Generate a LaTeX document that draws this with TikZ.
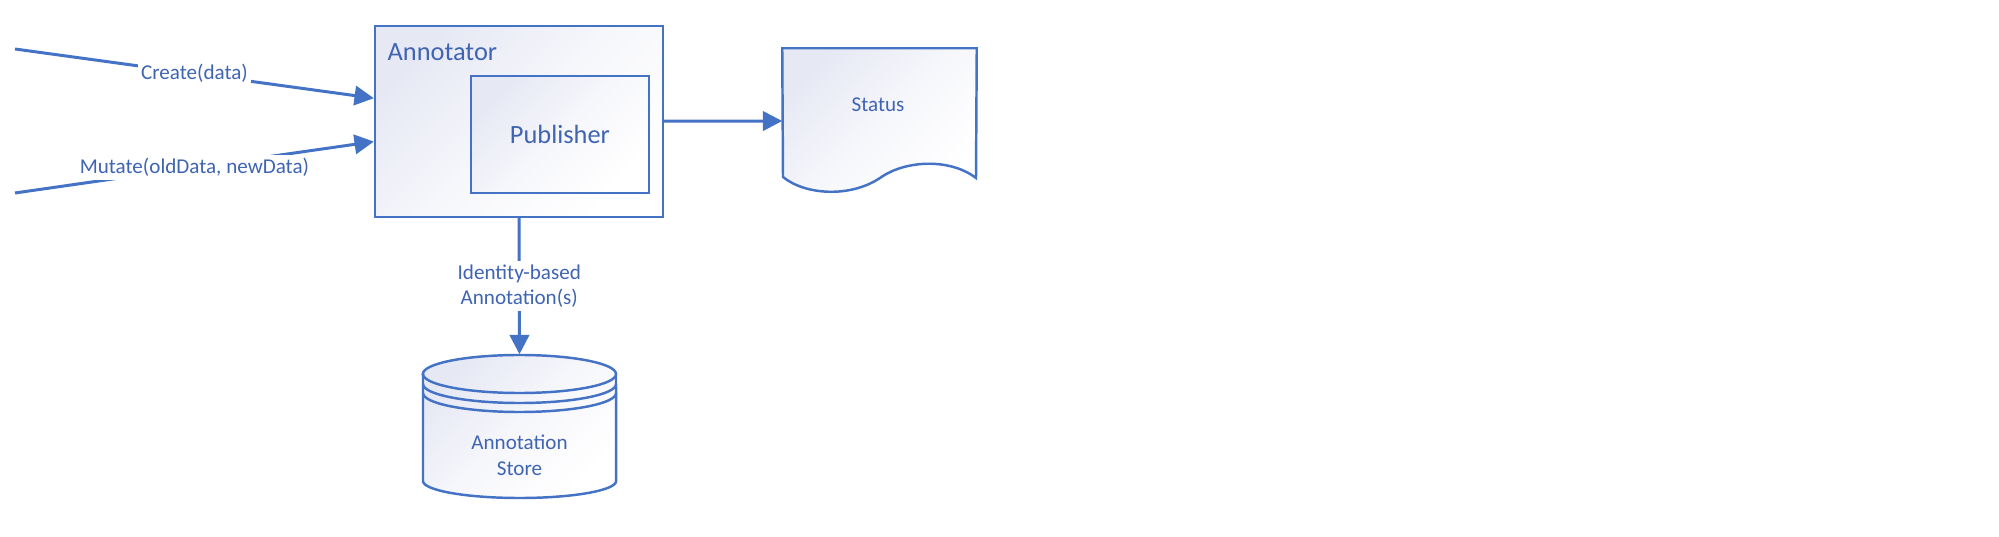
\documentclass[tikz,border=0pt]{standalone}
\usepackage{fontspec}
\setmainfont{Carlito}
\usetikzlibrary{arrows.meta}
\definecolor{linecol}{HTML}{4472C4}
\definecolor{textcol}{HTML}{3F64B4}
\definecolor{gradcol}{HTML}{E6E8F4}
\tikzset{
  compbox/.style={rectangle, draw=linecol, line width=0.6pt, top color=gradcol, bottom color=white, middle color=gradcol!35!white, shading angle=45, inner sep=0pt, text=textcol, font=\fontsize{7.5}{9}\selectfont},
  ghost/.style={rectangle, inner sep=0pt},
  docfill/.style={draw=linecol, line width=0.7pt, top color=gradcol, bottom color=white, middle color=gradcol!35!white, shading angle=45},
  flow/.style={-{Triangle[length=5.5pt, width=5.5pt]}, draw=linecol, line width=0.85pt},
  txt/.style={text=textcol, font=\fontsize{6}{7.3}\selectfont, align=center},
  lbl/.style={txt, fill=white, inner sep=1pt},
}

\begin{document}
\begin{tikzpicture}[x=0.01cm, y=-0.01cm]
  \useasboundingbox (0,0) rectangle (1999,537);
  % components
  \node[compbox, minimum width=2.88cm, minimum height=1.91cm] (annot) at (519,121.2) {};
  \node[anchor=west, inner sep=0pt, text=textcol, font=\fontsize{7.5}{9}\selectfont] (annotlbl) at (387,52) {Annotator};
  \node[compbox, minimum width=1.777cm, minimum height=1.176cm] (pub) at (559.9,134.5) {Publisher};
  % status document
  \node[ghost, minimum width=1.93cm, minimum height=1.44cm] (status) at (879.5,121) {};
  \draw[docfill] (status.north west) -- (status.north east) -- (976,178)
    .. controls (950,158) and (905,160) .. (880,178)
    .. controls (850,198) and (805,195) .. (783,177) -- cycle;
  \node[txt] (statuslbl) at (878,105) {Status};
  % annotation store
  \node[ghost, minimum width=1.93cm, minimum height=1.43cm] (store) at (519.5,426.5) {};
  \draw[docfill] (423,374) -- (423,481) arc[start angle=180, end angle=360, x radius=0.965cm, y radius=0.17cm]
    -- (616,374) arc[start angle=0, end angle=180, x radius=0.965cm, y radius=0.19cm] -- cycle;
  \foreach \yy in {374,384,393}
    \draw[linecol, line width=0.7pt] (423,\yy) arc[start angle=180, end angle=360, x radius=0.965cm, y radius=0.19cm];
  \node[txt] (storelbl) at (519.5,455) {Annotation\\Store};
  % connectors
  \coordinate (createsrc) at (15,49);
  \coordinate (mutatesrc) at (15,193);
  \draw[flow] (createsrc) -- node[lbl]{Create(data)} (annot.171.7);
  \draw[flow] (mutatesrc) -- node[lbl]{Mutate(oldData, newData)} (annot.188.7);
  \draw[flow] (annot.east) -- (status.west);
  \draw[flow] (annot.south) -- node[lbl]{Identity-based\\Annotation(s)} (store.north);
\end{tikzpicture}
\end{document}
